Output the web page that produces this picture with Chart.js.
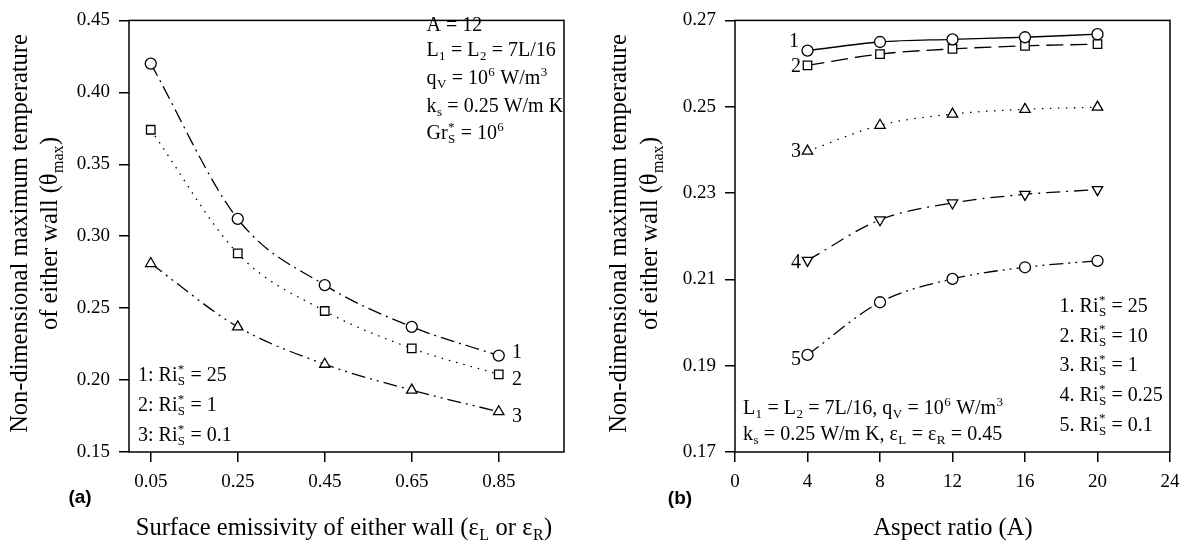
<!DOCTYPE html>
<html>
<head>
<meta charset="utf-8">
<script src="https://cdn.jsdelivr.net/npm/chart.js@4.4.1/dist/chart.umd.min.js"></script>
<style>
  body { margin: 0; background: #fff; }
  #wrap { position: relative; width: 1189px; height: 544px; }
  canvas { position: absolute; top: 0; }
</style>
</head>
<body>
<div id="wrap">
  <canvas id="chartA" width="600" height="544" style="left:0"></canvas>
  <canvas id="chartB" width="589" height="544" style="left:600px"></canvas>
</div>
<script>
// panel (a): theta_max vs surface emissivity
const emissivity = [0.05, 0.25, 0.45, 0.65, 0.85];
const riA25 = [0.420, 0.312, 0.266, 0.237, 0.217];
const riA1 = [0.374, 0.288, 0.248, 0.222, 0.204];
const riA01 = [0.281, 0.237, 0.211, 0.193, 0.178];
const xTicksA = [0.05, 0.25, 0.45, 0.65, 0.85];
const yTicksA = [0.15, 0.20, 0.25, 0.30, 0.35, 0.40, 0.45];

// panel (b): theta_max vs aspect ratio
const aspect = [4, 8, 12, 16, 20];
const riB25 = [0.2630, 0.2650, 0.2656, 0.2661, 0.2668];
const riB10 = [0.2596, 0.2622, 0.2634, 0.2641, 0.2645];
const riB1 = [0.2397, 0.2457, 0.2483, 0.2494, 0.2499];
const riB025 = [0.2144, 0.2238, 0.2277, 0.2297, 0.2308];
const riB01 = [0.1925, 0.2047, 0.2101, 0.2128, 0.2143];
const xTicksB = [0, 4, 8, 12, 16, 20, 24];
const yTicksB = [0.17, 0.19, 0.21, 0.23, 0.25, 0.27];

const SERIF = '"Liberation Serif", "Times New Roman", serif';
const SANS = '"Liberation Sans", Arial, sans-serif';
const TITLE = 24.5;

// rich text: strings are normal, ['_', s] sub, ['^', s] sup, ['_^', sub, sup] both
function richWidth(ctx, parts, size) {
  let w = 0;
  parts.forEach(p => {
    if (typeof p === 'string') {
      ctx.font = size + 'px ' + SERIF;
      w += ctx.measureText(p).width;
    } else {
      ctx.font = (size * 0.65) + 'px ' + SERIF;
      w += Math.max(...p.slice(1).map(s => ctx.measureText(s).width)) + size * 0.04;
    }
  });
  return w;
}

function drawRich(ctx, parts, x, y, size, align) {
  const w = richWidth(ctx, parts, size);
  let cx = align === 'center' ? x - w / 2 : (align === 'right' ? x - w : x);
  ctx.fillStyle = '#000';
  ctx.textAlign = 'left';
  ctx.textBaseline = 'alphabetic';
  parts.forEach(p => {
    if (typeof p === 'string') {
      ctx.font = size + 'px ' + SERIF;
      ctx.fillText(p, cx, y);
      cx += ctx.measureText(p).width;
      return;
    }
    ctx.font = (size * 0.65) + 'px ' + SERIF;
    const gap = size * 0.02;
    let ws = [];
    if (p[0] === '_') { ctx.fillText(p[1], cx + gap, y + size * 0.22); ws.push(ctx.measureText(p[1]).width); }
    if (p[0] === '^') { ctx.fillText(p[1], cx + gap, y - size * 0.42); ws.push(ctx.measureText(p[1]).width); }
    if (p[0] === '_^') {
      ctx.fillText(p[1], cx + gap, y + size * 0.22);
      ctx.fillText(p[2], cx + gap, y - size * 0.42);
      ws.push(ctx.measureText(p[1]).width, ctx.measureText(p[2]).width);
    }
    cx += Math.max(...ws) + size * 0.04;
  });
}

function drawRotated(ctx, parts, cx, cy, size) {
  ctx.save();
  ctx.translate(cx, cy);
  ctx.rotate(-Math.PI / 2);
  drawRich(ctx, parts, 0, size * 0.3, size, 'center');
  ctx.restore();
}

function plainText(ctx, txt, x, y, font) {
  ctx.font = font;
  ctx.fillStyle = '#000';
  ctx.textAlign = 'center';
  ctx.textBaseline = 'middle';
  ctx.fillText(txt, x, y);
}

const riS = ['_^', 'S', '*'];

function lineSet(xs, ys, style, dash, radius, rotation) {
  return {
    data: xs.map((x, i) => ({ x: x, y: ys[i] })),
    borderColor: '#000',
    borderWidth: 1.3,
    borderDash: dash,
    pointStyle: style,
    pointRadius: radius,
    pointRotation: rotation || 0,
    pointBackgroundColor: '#fff',
    pointBorderColor: '#000',
    pointBorderWidth: 1.3,
    cubicInterpolationMode: 'monotone',
    fill: false
  };
}

function axis(min, max, tickVals, fmt, size) {
  return {
    type: 'linear',
    min: min,
    max: max,
    afterBuildTicks: s => { s.ticks = tickVals.map(v => ({ value: v })); },
    ticks: {
      autoSkip: false,
      maxRotation: 0,
      color: '#000',
      font: { family: SERIF, size: 19 },
      padding: 9,
      callback: v => fmt(v)
    },
    grid: { drawOnChartArea: false, drawTicks: true, tickLength: 10, color: '#000', lineWidth: 1.5 },
    border: { display: false },
    afterFit: s => { if (s.isHorizontal()) s.height = size; else s.width = size; }
  };
}

function framePlugin(drawTexts) {
  return {
    id: 'frame',
    afterDraw(chart) {
      const ctx = chart.ctx;
      const a = chart.chartArea;
      ctx.save();
      ctx.strokeStyle = '#000';
      ctx.lineWidth = 1.5;
      ctx.strokeRect(a.left, a.top, a.right - a.left, a.bottom - a.top);
      drawTexts(ctx);
      ctx.restore();
    }
  };
}

const baseOptions = {
  responsive: false,
  animation: false,
  devicePixelRatio: 1,
  plugins: { legend: { display: false }, tooltip: { enabled: false } }
};

// ---------- chart (a)
new Chart(document.getElementById('chartA').getContext('2d'), {
  type: 'line',
  data: {
    datasets: [
      lineSet(emissivity, riA25, 'circle', [14, 5, 2, 5], 5.5),
      lineSet(emissivity, riA1, 'rect', [1.5, 6], 6),
      lineSet(emissivity, riA01, 'triangle', [14, 5, 2, 5, 2, 5], 6)
    ]
  },
  options: Object.assign({}, baseOptions, {
    layout: { padding: { left: 0, top: 15, right: 36, bottom: 0 } },
    scales: {
      x: axis(0, 1, xTicksA, v => v.toFixed(2), 92),
      y: axis(0.15, 0.45, yTicksA, v => v.toFixed(2), 129)
    }
  }),
  plugins: [framePlugin(ctx => {
    const s = 20;
    drawRich(ctx, ['A = 12'], 426.5, 31, s);
    drawRich(ctx, ['L', ['_', '1'], ' = L', ['_', '2'], ' = 7L/16'], 426.5, 56, s);
    drawRich(ctx, ['q', ['_', 'V'], ' = 10', ['^', '6'], ' W/m', ['^', '3']], 426.5, 84, s);
    drawRich(ctx, ['k', ['_', 's'], ' = 0.25 W/m K'], 426.5, 112, s);
    drawRich(ctx, ['Gr', riS, ' = 10', ['^', '6']], 426.5, 139, s);

    drawRich(ctx, ['1: Ri', riS, ' = 25'], 138, 381, s);
    drawRich(ctx, ['2: Ri', riS, ' = 1'], 138, 411, s);
    drawRich(ctx, ['3: Ri', riS, ' = 0.1'], 138, 441, s);

    plainText(ctx, '1', 517, 353, s + 'px ' + SERIF);
    plainText(ctx, '2', 517, 380, s + 'px ' + SERIF);
    plainText(ctx, '3', 517, 417, s + 'px ' + SERIF);

    plainText(ctx, '(a)', 80, 498, 'bold 19px ' + SANS);
    drawRich(ctx, ['Surface emissivity of either wall (\u03b5', ['_', 'L'], ' or \u03b5', ['_', 'R'], ')'], 344, 535, TITLE, 'center');
    drawRotated(ctx, ['Non-dimensional maximum temperature'], 20, 233.5, TITLE);
    drawRotated(ctx, ['of either wall (\u03b8', ['_', 'max'], ')'], 50, 233.5, TITLE);
  })]
});

// ---------- chart (b)
new Chart(document.getElementById('chartB').getContext('2d'), {
  type: 'line',
  data: {
    datasets: [
      lineSet(aspect, riB25, 'circle', [], 5.5),
      lineSet(aspect, riB10, 'rect', [17, 7], 6),
      lineSet(aspect, riB1, 'triangle', [1.5, 6.5], 6),
      lineSet(aspect, riB025, 'triangle', [14, 6, 2, 6], 6, 180),
      lineSet(aspect, riB01, 'circle', [14, 5, 2, 5, 2, 5], 5.5)
    ]
  },
  options: Object.assign({}, baseOptions, {
    layout: { padding: { left: 0, top: 15, right: 19, bottom: 0 } },
    scales: {
      x: axis(0, 24, xTicksB, v => String(v), 92),
      y: axis(0.17, 0.27, yTicksB, v => v.toFixed(2), 135)
    }
  }),
  plugins: [framePlugin(ctx => {
    const s = 20;
    const ox = -600;
    plainText(ctx, '1', 794 + ox, 42, s + 'px ' + SERIF);
    plainText(ctx, '2', 796 + ox, 66.5, s + 'px ' + SERIF);
    plainText(ctx, '3', 796 + ox, 152, s + 'px ' + SERIF);
    plainText(ctx, '4', 796 + ox, 263, s + 'px ' + SERIF);
    plainText(ctx, '5', 796 + ox, 360, s + 'px ' + SERIF);

    drawRich(ctx, ['L', ['_', '1'], ' = L', ['_', '2'], ' = 7L/16, q', ['_', 'V'], ' = 10', ['^', '6'], ' W/m', ['^', '3']], 743 + ox, 414, s);
    drawRich(ctx, ['k', ['_', 's'], ' = 0.25 W/m K, \u03b5', ['_', 'L'], ' = \u03b5', ['_', 'R'], ' = 0.45'], 743 + ox, 440, s);

    drawRich(ctx, ['1. Ri', riS, ' = 25'], 1059.6 + ox, 312, s);
    drawRich(ctx, ['2. Ri', riS, ' = 10'], 1059.6 + ox, 341.5, s);
    drawRich(ctx, ['3. Ri', riS, ' = 1'], 1059.6 + ox, 371, s);
    drawRich(ctx, ['4. Ri', riS, ' = 0.25'], 1059.6 + ox, 401, s);
    drawRich(ctx, ['5. Ri', riS, ' = 0.1'], 1059.6 + ox, 430.5, s);

    plainText(ctx, '(b)', 680 + ox, 499, 'bold 19px ' + SANS);
    drawRich(ctx, ['Aspect ratio (A)'], 953 + ox, 535, TITLE, 'center');
    drawRotated(ctx, ['Non-dimensional maximum temperature'], 619 + ox, 233.5, TITLE);
    drawRotated(ctx, ['of either wall (\u03b8', ['_', 'max'], ')'], 650 + ox, 233.5, TITLE);
  })]
});
</script>
</body>
</html>
